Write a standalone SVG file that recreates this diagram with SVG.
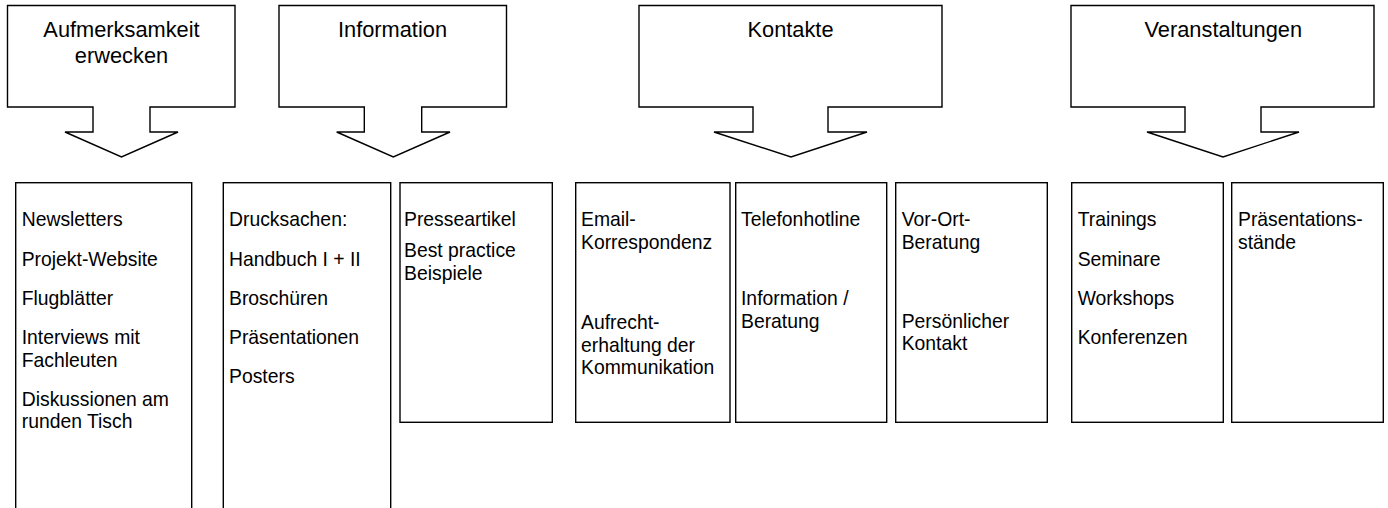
<svg xmlns="http://www.w3.org/2000/svg" width="1388" height="508" viewBox="0 0 1388 508">
<style>
.shape{fill:#fff;stroke:#000;stroke-width:1.4;stroke-linejoin:miter}
.h{font-family:"Liberation Sans",Arial,sans-serif;font-size:21.8px;fill:#000;text-anchor:middle}
.t{font-family:"Liberation Sans",Arial,sans-serif;font-size:19.35px;fill:#000}
</style>
<rect width="1388" height="508" fill="#fff"/>
<g id="callout-aufmerksamkeit">
<path class="shape" d="M7.5,5.5 H235 V107 H150 V132 H178 L121.5,157 L65,132 H93 V107 H7.5 Z"/>
<text class="h" x="121.5" y="37">Aufmerksamkeit</text>
<text class="h" x="121.5" y="63">erwecken</text>
</g>
<g id="callout-information">
<path class="shape" d="M279,5.5 H506.5 V107 H421.7 V132 H450 L393.3,157 L336.7,132 H364.3 V107 H279 Z"/>
<text class="h" x="392.5" y="37">Information</text>
</g>
<g id="callout-kontakte">
<path class="shape" d="M639,5.5 H942 V107 H828 V132 H867 L791,157 L714,132 H753 V107 H639 Z"/>
<text class="h" x="790.5" y="37">Kontakte</text>
</g>
<g id="callout-veranstaltungen">
<path class="shape" d="M1071,5.5 H1374 V107 H1261 V132 H1299 L1223,157 L1147,132 H1185 V107 H1071 Z"/>
<text class="h" x="1223.3" y="37">Veranstaltungen</text>
</g>
<g id="box-aufmerksamkeit">
<rect class="shape" x="15.7" y="182.7" width="176" height="340"/>
<text class="t" x="21.7" y="226">Newsletters</text>
<text class="t" x="21.7" y="265.5">Projekt-Website</text>
<text class="t" x="21.7" y="304.5">Flugblätter</text>
<text class="t" x="21.7" y="344">Interviews mit</text>
<text class="t" x="21.7" y="366.5">Fachleuten</text>
<text class="t" x="21.7" y="405.5">Diskussionen am</text>
<text class="t" x="21.7" y="428.3">runden Tisch</text>
</g>
<g id="box-drucksachen">
<rect class="shape" x="223.3" y="182.7" width="167.4" height="340"/>
<text class="t" x="229" y="226">Drucksachen:</text>
<text class="t" x="229" y="265.5">Handbuch I + II</text>
<text class="t" x="229" y="304.5">Broschüren</text>
<text class="t" x="229" y="344">Präsentationen</text>
<text class="t" x="229" y="383">Posters</text>
</g>
<g id="box-presse">
<rect class="shape" x="400" y="182.7" width="152.3" height="239.6"/>
<text class="t" x="404" y="226">Presseartikel</text>
<text class="t" x="404" y="257.3">Best practice</text>
<text class="t" x="404" y="280">Beispiele</text>
</g>
<g id="box-email">
<rect class="shape" x="575.7" y="182.7" width="154.3" height="239.6"/>
<text class="t" x="581" y="226">Email-</text>
<text class="t" x="581" y="249">Korrespondenz</text>
<text class="t" x="581" y="329.3">Aufrecht-</text>
<text class="t" x="581" y="351.7">erhaltung der</text>
<text class="t" x="581" y="374">Kommunikation</text>
</g>
<g id="box-telefon">
<rect class="shape" x="735.7" y="182.7" width="151" height="239.6"/>
<text class="t" x="741" y="226">Telefonhotline</text>
<text class="t" x="741" y="305">Information /</text>
<text class="t" x="741" y="327.5">Beratung</text>
</g>
<g id="box-vorort">
<rect class="shape" x="895.7" y="182.7" width="151.6" height="239.6"/>
<text class="t" x="901.7" y="226">Vor-Ort-</text>
<text class="t" x="901.7" y="249">Beratung</text>
<text class="t" x="901.7" y="327.5">Persönlicher</text>
<text class="t" x="901.7" y="350">Kontakt</text>
</g>
<g id="box-trainings">
<rect class="shape" x="1071.7" y="182.7" width="151.6" height="239.6"/>
<text class="t" x="1077.7" y="226">Trainings</text>
<text class="t" x="1077.7" y="265.5">Seminare</text>
<text class="t" x="1077.7" y="304.5">Workshops</text>
<text class="t" x="1077.7" y="344">Konferenzen</text>
</g>
<g id="box-praesentation">
<rect class="shape" x="1231.7" y="182.7" width="151.6" height="239.6"/>
<text class="t" x="1238" y="226">Präsentations-</text>
<text class="t" x="1238" y="249">stände</text>
</g>
<g id="connectors"></g>
</svg>
